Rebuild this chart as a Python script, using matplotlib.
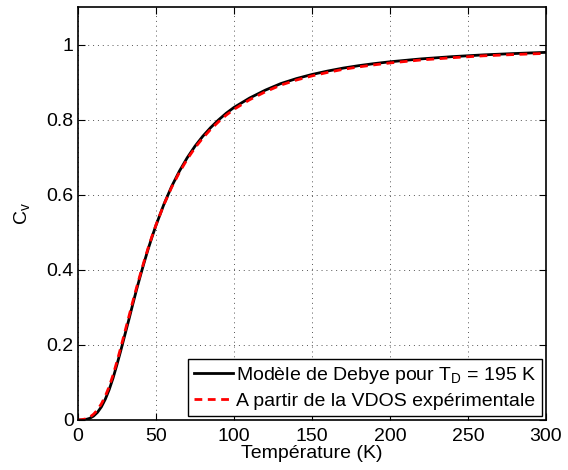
import numpy as np
import matplotlib
matplotlib.use("Agg")
import matplotlib.pyplot as plt

plt.rcParams['font.family'] = ['Liberation Sans', 'DejaVu Sans']

# temperature grid (K)
T = [0, 2.5, 5, 7.5, 10, 12.5, 15, 17.5, 20, 22.5, 25, 27.5, 30, 32.5, 35,
     37.5, 40, 42.5, 45, 47.5, 50, 55, 60, 65, 70, 75, 80, 85, 90, 95, 100,
     110, 120, 130, 140, 150, 160, 170, 180, 190, 200, 220, 240, 260, 280, 300]

# Debye model, T_D = 195 K
cv_debye = [0.0, 0.0002, 0.0013, 0.0044, 0.0105, 0.0204, 0.035, 0.0553,
            0.081, 0.112, 0.148, 0.186, 0.226, 0.2656, 0.3065, 0.3465,
            0.3845, 0.4208, 0.4557, 0.488, 0.5186, 0.5737, 0.6218, 0.6628,
            0.6984, 0.7293, 0.7558, 0.7787, 0.7989, 0.817, 0.8325, 0.8575,
            0.8784, 0.896, 0.9093, 0.9203, 0.9294, 0.9373, 0.9438, 0.9493,
            0.9541, 0.9618, 0.9678, 0.9725, 0.9761, 0.9792]

# from experimental VDOS
cv_vdos = [0.0, 0.0008, 0.003, 0.0075, 0.0155, 0.027, 0.043, 0.0635,
           0.089, 0.120, 0.156, 0.194, 0.234, 0.2735, 0.3135, 0.352,
           0.389, 0.4245, 0.4585, 0.490, 0.5195, 0.573, 0.6195, 0.6595,
           0.6945, 0.725, 0.751, 0.774, 0.794, 0.812, 0.8275, 0.853,
           0.874, 0.892, 0.9055, 0.9165, 0.9258, 0.934, 0.9405, 0.946,
           0.951, 0.959, 0.965, 0.970, 0.9735, 0.9765]

fig = plt.figure(figsize=(5.68, 4.70), dpi=100)
ax = fig.add_axes([0.1373, 0.1064, 0.824, 0.8787])

ax.plot(T, cv_debye, color='black', lw=2, label=r'Modèle de Debye pour T$_\mathregular{D}$ = 195 K')
ax.plot(T, cv_vdos, color='red', lw=2, ls=(0, (2.8, 2)), label='A partir de la VDOS expérimentale')

ax.set_xlim(0, 300)
ax.set_ylim(0, 1.1)
ax.set_xticks([0, 50, 100, 150, 200, 250, 300])
ax.set_yticks([0, 0.2, 0.4, 0.6, 0.8, 1.0])
ax.set_yticklabels(['0', '0.2', '0.4', '0.6', '0.8', '1'])
ax.tick_params(direction='in', top=True, right=True, labelsize=14, length=5, width=0.8, pad=3)
ax.tick_params(axis='x', pad=6)
ax.grid(True, color='#555555', ls=(0, (1, 4)), lw=0.7)
for s in ax.spines.values():
    s.set_linewidth(1.2)

ax.set_xlabel('Température (K)', fontsize=14, labelpad=0)
ax.set_ylabel(r'C$_\mathregular{v}$', fontsize=14, labelpad=10)

leg = ax.legend(loc='lower right', fontsize=14, frameon=True, fancybox=False,
                edgecolor='black', framealpha=1, handlelength=2.0,
                handletextpad=0.15, borderpad=0.3, labelspacing=0.35,
                borderaxespad=0.2)
leg.get_frame().set_linewidth(1.0)

fig.savefig('out.png', dpi=100)
